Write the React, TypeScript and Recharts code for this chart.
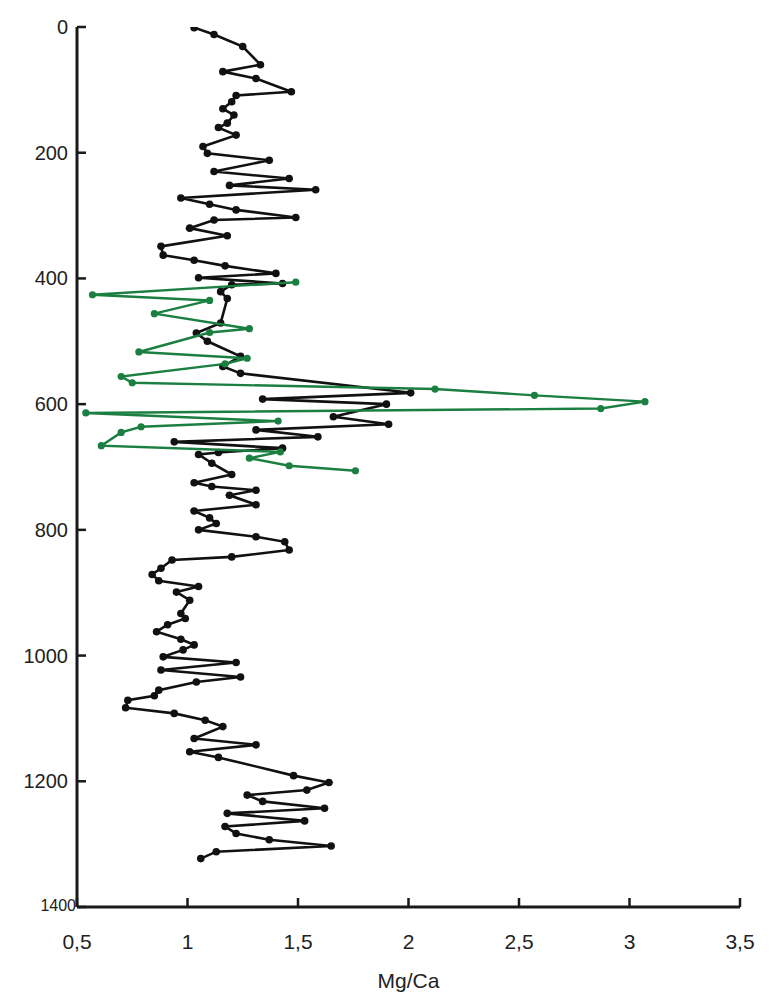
import React from 'react'
import { ScatterChart, Scatter, XAxis, YAxis } from 'recharts'

// black record: Mg/Ca vs depth, in order down the core
const blackDepth = [
  1, 12, 31, 60, 71, 82, 103, 109, 119, 130, 140, 153, 160, 172, 190, 201, 212, 230, 241, 252,
  259, 272, 282, 291, 303, 307, 320, 332, 349, 363, 371, 380, 392, 399, 408, 410, 421, 432, 471, 487,
  500, 524, 540, 551, 582, 592, 600, 620, 632, 641, 652, 660, 670, 677, 680, 694, 712, 725, 731, 737,
  745, 760, 770, 781, 790, 800, 811, 819, 832, 843, 848, 861, 871, 881, 890, 899, 912, 933, 941, 951,
  962, 974, 983, 991, 1002, 1011, 1023, 1034, 1042, 1055, 1064, 1071, 1083, 1092, 1103, 1113, 1132, 1142, 1153, 1162,
  1191, 1202, 1214, 1222, 1232, 1243, 1251, 1263, 1272, 1283, 1293, 1303, 1312, 1323,
]
const blackMgCa = [
  1.03, 1.12, 1.25, 1.33, 1.16, 1.31, 1.47, 1.22, 1.2, 1.16, 1.21, 1.18, 1.14, 1.22, 1.07, 1.09, 1.37, 1.12, 1.46, 1.19,
  1.58, 0.97, 1.1, 1.22, 1.49, 1.12, 1.01, 1.18, 0.88, 0.89, 1.03, 1.17, 1.4, 1.05, 1.43, 1.2, 1.15, 1.18, 1.15, 1.04,
  1.09, 1.24, 1.16, 1.24, 2.01, 1.34, 1.9, 1.66, 1.91, 1.31, 1.59, 0.94, 1.43, 1.14, 1.05, 1.11, 1.2, 1.03, 1.11, 1.31,
  1.19, 1.31, 1.03, 1.1, 1.13, 1.05, 1.31, 1.44, 1.46, 1.2, 0.93, 0.88, 0.84, 0.87, 1.05, 0.95, 1.01, 0.97, 0.99, 0.91,
  0.86, 0.97, 1.03, 0.98, 0.89, 1.22, 0.88, 1.24, 1.04, 0.87, 0.85, 0.73, 0.72, 0.94, 1.08, 1.16, 1.03, 1.31, 1.01, 1.14,
  1.48, 1.64, 1.54, 1.27, 1.34, 1.62, 1.18, 1.53, 1.17, 1.22, 1.37, 1.65, 1.13, 1.06,
]

// green record
const greenDepth = [406, 426, 435, 456, 480, 486, 517, 527, 536, 556, 566, 576, 586, 596, 607, 614, 627, 636, 645, 666, 676, 686, 698, 706]
const greenMgCa = [1.49, 0.57, 1.1, 0.85, 1.28, 1.1, 0.78, 1.27, 1.17, 0.7, 0.75, 2.12, 2.57, 3.07, 2.87, 0.54, 1.41, 0.79, 0.7, 0.61, 1.42, 1.28, 1.46, 1.76]

const xTicks = [0.5, 1, 1.5, 2, 2.5, 3, 3.5]
const yTicks = [0, 200, 400, 600, 800, 1000, 1200, 1400]

const blackData = blackDepth.map((d, i) => ({ mgca: blackMgCa[i], depth: d }))
const greenData = greenDepth.map((d, i) => ({ mgca: greenMgCa[i], depth: d }))

const AXIS = '#1a1a1a'
const GREEN = '#1a7f40'
const FONT = '"Liberation Sans", Arial, sans-serif'

const fmt = (v: number) => String(v).replace('.', ',')

// labels plus inward tick marks
function YTick(props: any) {
  const { x, y, payload } = props
  const last = payload.value === 1400
  return (
    <g>
      <rect x={x + 9} y={y - 1.25} width={9} height={2.5} fill={AXIS} />
      <text
        x={last ? x + 8 : x}
        y={y}
        dy={last ? 4 : 7}
        textAnchor="end"
        fontSize={last ? 16 : 20}
        fontFamily={FONT}
        fill="#222"
      >
        {payload.value}
      </text>
    </g>
  )
}

function XTick(props: any) {
  const { x, y, payload } = props
  return (
    <g>
      <rect x={x - 1.25} y={y - 35} width={2.5} height={9} fill={AXIS} />
      <text x={x} y={y} dy={16} textAnchor="middle" fontSize={21} fontFamily={FONT} fill="#222">
        {fmt(payload.value)}
      </text>
    </g>
  )
}

export default function App(): React.ReactElement {
  return (
    <div style={{ width: 755, height: 985, background: '#fff' }}>
      <ScatterChart width={755} height={985} margin={{ top: 19, right: 23, bottom: 1, left: 0 }}>
        <XAxis
          type="number"
          dataKey="mgca"
          domain={[0.5, 3.5]}
          ticks={xTicks}
          tickSize={0}
          tickMargin={26}
          tick={<XTick />}
          tickLine={false}
          height={85}
          axisLine={{ stroke: AXIS, strokeWidth: 3 }}
          allowDataOverflow
          label={{
            value: 'Mg/Ca',
            position: 'insideBottom',
            offset: 4,
            style: { fontSize: 21, fontFamily: FONT, fill: '#222' },
          }}
        />
        <YAxis
          type="number"
          dataKey="depth"
          domain={[0, 1400]}
          ticks={yTicks}
          reversed
          tickSize={0}
          tickMargin={9}
          tick={<YTick />}
          tickLine={false}
          width={69}
          axisLine={{ stroke: AXIS, strokeWidth: 3 }}
          allowDataOverflow
        />
        <Scatter
          data={blackData}
          fill="#111"
          line={{ stroke: '#111', strokeWidth: 2.6 }}
          shape={(p: any) => <circle cx={p.cx} cy={p.cy} r={3.8} fill="#111" />}
          isAnimationActive={false}
        />
        <Scatter
          data={greenData}
          fill={GREEN}
          line={{ stroke: GREEN, strokeWidth: 2.4 }}
          shape={(p: any) => <circle cx={p.cx} cy={p.cy} r={3.6} fill={GREEN} />}
          isAnimationActive={false}
        />
      </ScatterChart>
    </div>
  )
}
